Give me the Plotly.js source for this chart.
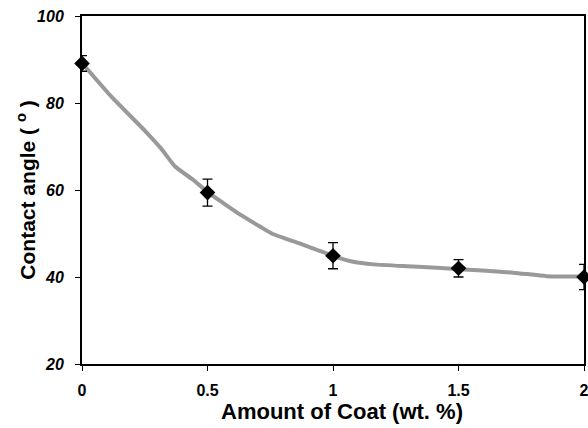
<!DOCTYPE html>
<html>
<head>
<meta charset="utf-8">
<script src="https://cdn.plot.ly/plotly-3.0.1.min.js"></script>
<style>html,body{margin:0;padding:0;background:#fff;}#chart{width:588px;height:428px;}</style>
</head>
<body>
<div id="chart"></div>
<script>
// measured data
const coatAmount = [0, 0.5, 1, 1.5, 2];
const contactAngle = [89.1, 59.4, 44.9, 42.0, 40.0];
const angleError = [1.8, 3.1, 3.0, 2.0, 2.9];

// gray trend curve
const trendX = [0, 0.118, 0.251, 0.317, 0.371, 0.444, 0.503, 0.563, 0.629, 0.709, 0.756, 0.882, 1.008, 1.081, 1.161, 1.32, 1.506, 1.718, 1.851, 2.0];
const trendY = [89.2, 81.4, 73.6, 69.4, 65.4, 62.3, 59.4, 57.0, 54.4, 51.6, 50.0, 47.4, 44.7, 43.5, 42.9, 42.4, 41.8, 41.0, 40.2, 40.1];

const xTicks = [0, 0.5, 1, 1.5, 2];
const xTickText = ['0', '0.5', '1', '1.5', '2'];
const yTicks = [20, 40, 60, 80, 100];
const xTitle = 'Amount of Coat (wt. %)';
const yTitle = 'Contact angle ( <sup>o</sup> )';

const fontFam = 'Liberation Sans, Arial, sans-serif';

const traces = [
  {
    x: trendX, y: trendY, mode: 'lines', type: 'scatter',
    line: {color: '#999999', width: 4, shape: 'spline', smoothing: 0.5},
    hoverinfo: 'skip', cliponaxis: true
  },
  {
    x: coatAmount, y: contactAngle, mode: 'markers', type: 'scatter',
    marker: {symbol: 'diamond', size: 12, color: '#000000'},
    error_y: {type: 'data', array: angleError, visible: true, color: '#000000', thickness: 1.3, width: 5},
    cliponaxis: false
  }
];

const layout = {
  width: 588, height: 428,
  margin: {l: 82, r: 4, t: 16, b: 64},
  paper_bgcolor: '#ffffff', plot_bgcolor: '#ffffff',
  showlegend: false,
  xaxis: {
    range: [0, 2], tickvals: xTicks, ticktext: xTickText,
    showgrid: false, zeroline: false,
    showline: true, linecolor: '#000', linewidth: 2, mirror: true,
    ticks: 'outside', ticklen: 5, tickwidth: 1, tickcolor: '#000',
    ticklabelstandoff: 6, ticklabeloverflow: 'allow',
    tickfont: {family: fontFam, size: 16, color: '#000', weight: 'bold'}
  },
  yaxis: {
    range: [20, 100], tickvals: yTicks,
    showgrid: false, zeroline: false,
    showline: true, linecolor: '#000', linewidth: 2, mirror: true,
    ticks: 'outside', ticklen: 5, tickwidth: 1, tickcolor: '#000',
    ticklabelstandoff: 8,
    tickfont: {family: fontFam, size: 16, color: '#000', weight: 'bold', style: 'italic'}
  },
  annotations: [
    {text: xTitle, xref: 'paper', yref: 'paper', x: 0.517, y: -0.136,
     xanchor: 'center', yanchor: 'middle', showarrow: false,
     font: {family: fontFam, size: 22, color: '#000', weight: 'bold'}},
    {text: yTitle, xref: 'paper', yref: 'paper', x: -0.1116, y: 0.501, textangle: -90,
     xanchor: 'center', yanchor: 'middle', showarrow: false,
     font: {family: fontFam, size: 21, color: '#000', weight: 'bold'}}
  ]
};

Plotly.newPlot('chart', traces, layout, {staticPlot: true, displayModeBar: false});
</script>
</body>
</html>
